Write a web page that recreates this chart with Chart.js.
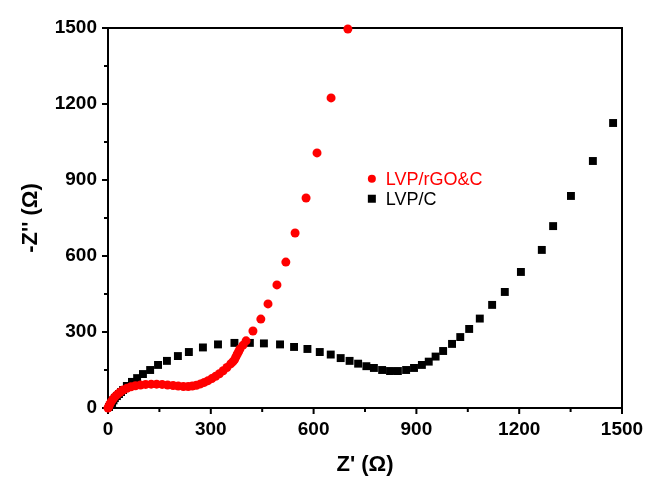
<!DOCTYPE html>
<html>
<head>
<meta charset="utf-8">
<script src="https://cdn.jsdelivr.net/npm/chart.js@4.4.1/dist/chart.umd.min.js"></script>
<style>
  html, body { margin: 0; padding: 0; background: #fff; }
  canvas { display: block; }
</style>
</head>
<body>
<canvas id="nyquist" width="649" height="482"></canvas>
<script>
// Nyquist plot: Z' vs -Z'' for the two electrodes

// LVP/rGO&C (red circles)
const rgoRe = [0, 2, 5, 9, 14, 20, 27, 35, 44, 55, 67, 80, 95, 110, 126, 142, 158, 174, 190, 205, 220, 234,
  246, 258, 270, 281, 292, 303, 314, 325, 336, 347, 358, 364, 369, 373, 377, 381, 385, 394, 403, 423, 446, 467,
  493, 519, 546, 578, 610, 651, 700];
const rgoIm = [0, 5, 14, 24, 34, 44, 53, 62, 71, 78, 84, 88, 91, 93, 94, 94, 93, 91, 89, 87, 85, 85,
  87, 90, 95, 101, 108, 116, 125, 135, 147, 160, 174, 182, 190, 201, 212, 222, 233, 248, 265, 304, 351, 411,
  486, 576, 691, 829, 1007, 1224, 1496];

// LVP/C (black squares)
const cRe = [3, 8, 12, 16, 20, 26, 32, 38, 44, 55, 70, 85, 102, 123, 146, 172, 204, 236, 277, 321, 369, 414, 455, 502, 543, 582,
  618, 650, 679, 705, 730, 754, 776, 800, 823, 846, 870, 893, 916, 936, 956, 978, 1004, 1028, 1054, 1085, 1121,
  1158, 1205, 1266, 1299, 1351, 1415, 1474];
const cIm = [4, 12, 20, 30, 39, 47, 55, 63, 71, 87, 103, 118, 134, 150, 170, 186, 205, 221, 239, 251, 257, 257, 255, 251, 241, 233,
  221, 211, 197, 186, 175, 165, 158, 150, 146, 146, 150, 158, 170, 183, 203, 225, 253, 280, 312, 353, 407,
  458, 537, 624, 718, 837, 975, 1125];

const seriesNames = ['LVP/rGO&C', 'LVP/C'];
const axisMax = 1500;
const tickStep = 150;     // minor step, labels every 300

const toPoints = (xs, ys) => xs.map((x, i) => ({ x, y: ys[i] }));

const FONT = 'Arial, "Liberation Sans", sans-serif';

// frame, major/minor ticks, and the in-plot legend
const framePlugin = {
  id: 'frame',
  beforeDatasetsDraw(chart) {
    const { ctx, chartArea: a, scales } = chart;
    ctx.save();
    ctx.strokeStyle = '#000';
    ctx.lineWidth = 2;
    ctx.strokeRect(a.left, a.top, a.right - a.left, a.bottom - a.top);
    ctx.beginPath();
    scales.x.ticks.forEach(t => {
      const px = scales.x.getPixelForValue(t.value);
      const len = t.value % 300 === 0 ? 6 : 4;
      ctx.moveTo(px, a.bottom);
      ctx.lineTo(px, a.bottom + len);
    });
    scales.y.ticks.forEach(t => {
      const py = scales.y.getPixelForValue(t.value);
      const len = t.value % 300 === 0 ? 6 : 4;
      ctx.moveTo(a.left, py);
      ctx.lineTo(a.left - len, py);
    });
    ctx.stroke();
    ctx.restore();
  },
  afterDraw(chart) {
    const { ctx } = chart;
    const x0 = chart.scales.x.getPixelForValue(770);
    const y0 = chart.scales.y.getPixelForValue(905);
    ctx.save();
    ctx.font = '18px ' + FONT;
    ctx.textBaseline = 'middle';
    chart.data.datasets.forEach((ds, i) => {
      const y = y0 + i * 20;
      ctx.fillStyle = ds.backgroundColor;
      if (ds.pointStyle === 'circle') {
        ctx.beginPath();
        ctx.arc(x0, y, 4, 0, Math.PI * 2);
        ctx.fill();
      } else {
        ctx.fillRect(x0 - 4, y - 4, 8, 8);
      }
      ctx.fillText(ds.label, x0 + 14, y + 1);
    });
    ctx.restore();
  }
};

new Chart(document.getElementById('nyquist'), {
  type: 'scatter',
  data: {
    datasets: [
      {
        label: seriesNames[0],
        data: toPoints(rgoRe, rgoIm),
        pointStyle: 'circle',
        pointRadius: 4.5,
        backgroundColor: '#ff0000',
        borderWidth: 0,
        clip: false
      },
      {
        label: seriesNames[1],
        data: toPoints(cRe, cIm),
        pointStyle: 'rect',
        pointRadius: 5.6,
        backgroundColor: '#000000',
        borderWidth: 0,
        clip: false
      }
    ]
  },
  options: {
    responsive: false,
    animation: false,
    layout: { padding: { top: 28, right: 27, left: 0, bottom: 0 } },
    plugins: { legend: { display: false }, tooltip: { enabled: false } },
    scales: {
      x: {
        min: 0, max: axisMax,
        afterFit: s => { s.height = 74; },
        border: { display: false },
        grid: { display: true, drawOnChartArea: false, drawTicks: true, tickLength: 6, tickColor: 'rgba(0,0,0,0)' },
        ticks: {
          stepSize: tickStep, autoSkip: false, maxRotation: 0, padding: 4, color: '#000',
          font: { family: FONT, size: 19, weight: 'bold' },
          callback: v => (v % 300 === 0 ? v : '')
        },
        title: {
          display: true, text: "Z' (Ω)", color: '#000',
          font: { family: FONT, size: 22, weight: 'bold' },
          padding: { top: 0, bottom: 4 }
        }
      },
      y: {
        min: 0, max: axisMax,
        afterFit: s => { s.width = 108; },
        border: { display: false },
        grid: { display: true, drawOnChartArea: false, drawTicks: true, tickLength: 6, tickColor: 'rgba(0,0,0,0)' },
        ticks: {
          stepSize: tickStep, autoSkip: false, padding: 5, color: '#000',
          font: { family: FONT, size: 19, weight: 'bold' },
          callback: v => (v % 300 === 0 ? v : '')
        },
        title: {
          display: true, text: "-Z'' (Ω)", color: '#000',
          font: { family: FONT, size: 22, weight: 'bold' },
          padding: { top: 18, bottom: 0 }
        }
      }
    }
  },
  plugins: [framePlugin]
});
</script>
</body>
</html>
